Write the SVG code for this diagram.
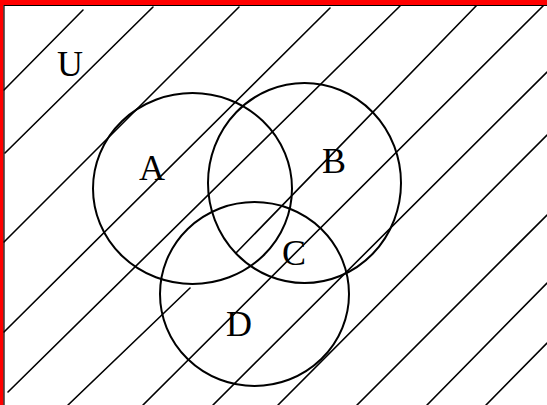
<svg xmlns="http://www.w3.org/2000/svg" width="547" height="405" viewBox="0 0 547 405">
  <style>
    .hatch line { stroke: #000; stroke-width: 1.6; stroke-linecap: round; }
    .set { fill: none; stroke: #000; stroke-width: 2; }
    .lbl { font-family: "Liberation Serif", "Times New Roman", serif; font-size: 36px; fill: #000; }
  </style>
  <rect x="0" y="0" width="547" height="405" fill="#fff"/>
  <g id="hatching" class="hatch">
    <line x1="83" y1="10" x2="4" y2="90"/>
    <line x1="153" y1="7" x2="5" y2="153"/>
    <line x1="239" y1="7" x2="4" y2="242"/>
    <line x1="330" y1="8" x2="4" y2="332"/>
    <line x1="400" y1="6" x2="8" y2="392"/>
    <line x1="477" y1="5" x2="236" y2="253"/>
    <line x1="190" y1="288" x2="68" y2="405"/>
    <line x1="544" y1="5" x2="143" y2="405"/>
    <line x1="547" y1="72" x2="213" y2="405"/>
    <line x1="547" y1="135" x2="278" y2="405"/>
    <line x1="547" y1="215" x2="357" y2="405"/>
    <line x1="547" y1="283" x2="427" y2="405"/>
    <line x1="547" y1="343" x2="486" y2="405"/>
  </g>
  <g id="universe">
    <rect x="0" y="0" width="547" height="5" fill="#ff0000"/>
    <rect x="0" y="0" width="3.5" height="405" fill="#ff0000"/>
    <line x1="4" y1="5.5" x2="547" y2="5.5" stroke="#000" stroke-width="1.2"/>
    <line x1="4" y1="5" x2="4" y2="405" stroke="#000" stroke-width="1.2"/>
    <text class="lbl" x="57" y="76">U</text>
  </g>
  <g id="set-A">
    <ellipse class="set" cx="192.5" cy="188.5" rx="99.5" ry="95.5"/>
    <text class="lbl" x="139" y="180">A</text>
  </g>
  <g id="set-B">
    <ellipse class="set" cx="304.5" cy="183" rx="96.5" ry="100"/>
    <text class="lbl" x="322" y="173">B</text>
  </g>
  <g id="set-D">
    <ellipse class="set" cx="254.5" cy="294" rx="94.5" ry="92"/>
    <text class="lbl" x="226" y="336">D</text>
  </g>
  <g id="label-C">
    <text class="lbl" x="282" y="265">C</text>
  </g>
</svg>
